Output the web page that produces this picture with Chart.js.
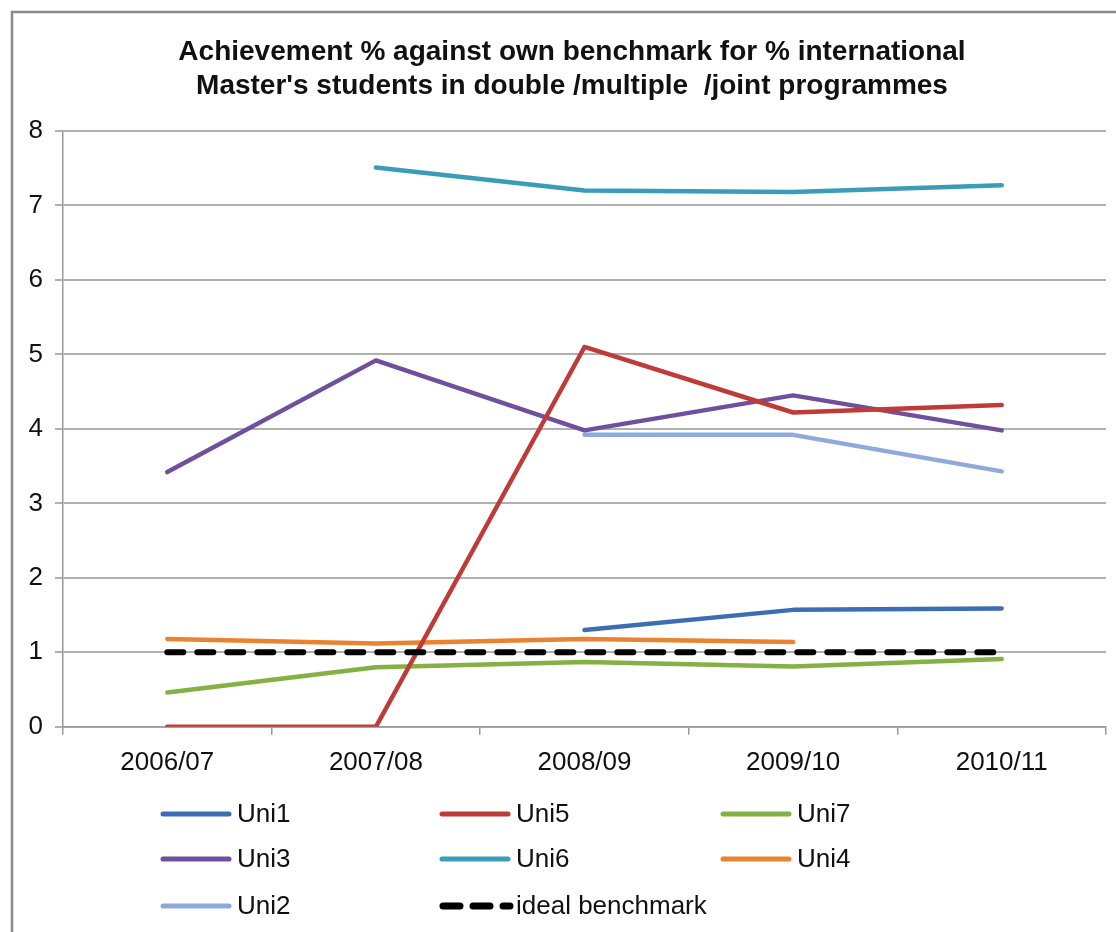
<!DOCTYPE html>
<html>
<head>
<meta charset="utf-8">
<script src="https://cdn.jsdelivr.net/npm/chart.js@4.4.1/dist/chart.umd.min.js"></script>
<style>
  html, body { margin: 0; padding: 0; background: #fff; }
  #wrap { position: relative; width: 1116px; height: 932px; }
</style>
</head>
<body>
<div id="wrap"><canvas id="c" width="1116" height="932"></canvas></div>
<script>
const categories = ['2006/07', '2007/08', '2008/09', '2009/10', '2010/11'];
const titleLines = ["Achievement % against own benchmark for % international", "Master's students in double /multiple  /joint programmes"];
const yTicks = [0, 1, 2, 3, 4, 5, 6, 7, 8];

const uni1 = [null, null, 1.30, 1.57, 1.59];
const uni5 = [0, 0, 5.10, 4.22, 4.32];
const uni7 = [0.46, 0.80, 0.87, 0.81, 0.91];
const uni3 = [3.42, 4.92, 3.98, 4.45, 3.98];
const uni6 = [null, 7.51, 7.20, 7.18, 7.27];
const uni4 = [1.18, 1.12, 1.18, 1.14, null];
const uni2 = [null, null, 3.92, 3.92, 3.43];
const ideal = [1, 1, 1, 1, 1];

const seriesNames = ['Uni1', 'Uni5', 'Uni7', 'Uni3', 'Uni6', 'Uni4', 'Uni2', 'ideal benchmark'];
const seriesData = [uni1, uni5, uni7, uni3, uni6, uni4, uni2, ideal];
const seriesColors = ['#3C6EB4', '#BE3B37', '#85B043', '#70509C', '#3A9DB8', '#EA832F', '#8DAADB', '#000000'];

const FONT = "'Liberation Sans', Arial, sans-serif";

const datasets = seriesNames.map((name, i) => {
  const isIdeal = name === 'ideal benchmark';
  return {
    label: name,
    data: seriesData[i],
    borderColor: seriesColors[i],
    backgroundColor: seriesColors[i],
    borderWidth: isIdeal ? 6 : 4.5,
    borderDash: isIdeal ? [16, 14] : [],
    borderCapStyle: 'round',
    borderJoinStyle: 'round',
    pointRadius: 0,
    pointHoverRadius: 0,
    tension: 0,
    fill: false,
    spanGaps: false,
    order: isIdeal ? 0 : 1
  };
});

const framePlugin = {
  id: 'frame',
  beforeDraw(chart) {
    const ctx = chart.ctx;
    ctx.save();
    ctx.fillStyle = '#fff';
    ctx.fillRect(0, 0, chart.width, chart.height);
    ctx.strokeStyle = '#8a8a8a';
    ctx.lineWidth = 2.5;
    ctx.beginPath();
    ctx.moveTo(12, chart.height + 5);
    ctx.lineTo(12, 12);
    ctx.lineTo(chart.width + 5, 12);
    ctx.stroke();
    ctx.restore();
  },
  afterLayout(chart) {
    const t = chart.titleBlock;
    if (t) { t.left += 13; t.right += 13; }
  }
};

const legendPlugin = {
  id: 'gridLegend',
  afterDraw(chart) {
    const ctx = chart.ctx;
    const colX = [161, 440, 721];
    const rowY = [814, 859, 906];
    ctx.save();
    ctx.font = '26px ' + FONT;
    ctx.textBaseline = 'middle';
    ctx.textAlign = 'left';
    chart.data.datasets.forEach((ds, i) => {
      const x = colX[i % 3];
      const y = rowY[Math.floor(i / 3)];
      ctx.strokeStyle = ds.borderColor;
      ctx.lineCap = 'round';
      if (ds.borderDash && ds.borderDash.length) {
        ctx.lineWidth = 7;
        ctx.setLineDash([17, 13]);
        ctx.beginPath();
        ctx.moveTo(x + 3, y);
        ctx.lineTo(x + 70, y);
        ctx.stroke();
        ctx.setLineDash([]);
      } else {
        ctx.lineWidth = 5;
        ctx.beginPath();
        ctx.moveTo(x + 2, y);
        ctx.lineTo(x + 68, y);
        ctx.stroke();
      }
      ctx.fillStyle = '#111';
      ctx.fillText(ds.label, x + 76, y + 1);
    });
    ctx.restore();
  }
};

new Chart(document.getElementById('c'), {
  type: 'line',
  data: { labels: categories, datasets },
  options: {
    responsive: false,
    animation: false,
    events: [],
    layout: { padding: { left: 12, right: 10, top: 0, bottom: 142 } },
    plugins: {
      legend: { display: false },
      tooltip: { enabled: false },
      title: {
        display: true,
        text: titleLines,
        color: '#111',
        font: { family: FONT, size: 28, weight: 'bold', lineHeight: 34 / 28 },
        padding: { top: 35, bottom: 28 }
      }
    },
    scales: {
      x: {
        type: 'category',
        offset: true,
        grid: { offset: true, drawOnChartArea: false, drawTicks: true, tickLength: 8, color: '#9a9a9a', lineWidth: 1.5 },
        border: { display: true, color: '#9a9a9a', width: 1.5 },
        ticks: { color: '#111', font: { family: FONT, size: 26 }, padding: 12, maxRotation: 0, autoSkip: false }
      },
      y: {
        min: 0,
        max: 8,
        afterFit(scale) { scale.width = 51; },
        afterBuildTicks(scale) { scale.ticks = yTicks.map(v => ({ value: v })); },
        grid: { color: '#b0b0b0', lineWidth: 2, tickLength: 8, drawTicks: true },
        border: { display: true, color: '#9a9a9a', width: 1.5 },
        ticks: { color: '#111', font: { family: FONT, size: 26 }, padding: 12, stepSize: 1 }
      }
    }
  },
  plugins: [framePlugin, legendPlugin]
});
</script>
</body>
</html>
